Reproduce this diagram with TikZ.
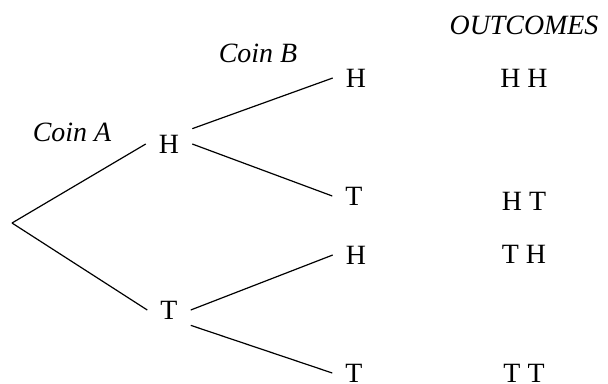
\documentclass[tikz,border=0pt]{standalone}
\usepackage{fontspec}
\setmainfont{Liberation Serif}

\begin{document}
\begin{tikzpicture}[x=1bp,y=-1bp,node distance={168bp},
  main/.style={font=\fontsize{28}{32}\selectfont,inner xsep=13bp,inner ysep=6bp},
  lbl/.style={font=\fontsize{28}{32}\selectfont\itshape,inner sep=0pt}]
\useasboundingbox (0,0) rectangle (608,383);
\coordinate (0) at (12,223);
\node[main] (aH) at (169,144) {H};
\node[main] (aT) at (169,310) {T};
\node[main] (bHH) at (356,78) {H};
\node[main] (bHT) at (354,196) {T};
\node[main] (bTH) at (356,255) {H};
\node[main] (bTT) at (354,373) {T};
\node[main] (oHH) [right of=bHH] {H H};
\node[main] (oHT) [right of=bHT,xshift=2bp,yshift=-5bp] {H T};
\node[main] (oTH) [right of=bTH,yshift=1bp] {T H};
\node[main] (oTT) [right of=bTT,xshift=2bp] {T T};
\node[lbl] (coinA) at (72,132) {Coin A};
\node[lbl] (coinB) at (258,53) {Coin B};
\node[lbl] (out) at (524,25) {OUTCOMES};

\draw[line width = 1.2bp] (0) -- (aH.west);
\draw[line width = 1.2bp] (0) -- (aT.west);
\draw[line width = 1.2bp] (aH.north east) -- (bHH.west);
\draw[line width = 1.2bp] (aH.east) -- (bHT.west);
\draw[line width = 1.2bp] (aT.east) -- (bTH.west);
\draw[line width = 1.2bp] (aT.south east) -- (bTT.west);
\end{tikzpicture}
\end{document}
